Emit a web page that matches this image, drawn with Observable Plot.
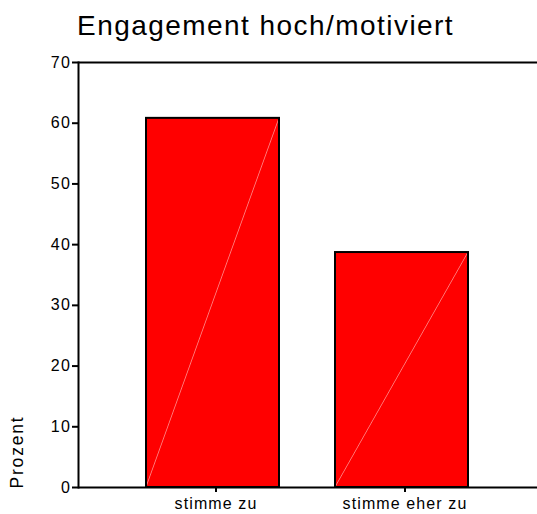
<!DOCTYPE html>
<html>
<head>
<meta charset="utf-8">
<script src="https://cdn.jsdelivr.net/npm/d3@7"></script>
<script src="https://cdn.jsdelivr.net/npm/@observablehq/plot@0.6"></script>
<style>
  html, body { margin: 0; padding: 0; background: #fff; }
  #chart { width: 537px; height: 514px; position: relative; font-family: "Liberation Sans", Arial, sans-serif; color: #000; }
  #title { box-sizing: border-box; height: 50px; padding-top: 12px; padding-left: 77px; font-size: 28px; line-height: 28px; letter-spacing: 1.45px; white-space: nowrap; }
  #chart svg [aria-label="y-axis tick label"] text { letter-spacing: 1.5px; font-size: 16px; }
  #chart svg [aria-label="x-axis tick label"] text { letter-spacing: 1.1px; font-size: 16px; }
  #chart svg .ylab text { letter-spacing: 1.8px; font-size: 17.5px; }
</style>
</head>
<body>
<svg width="0" height="0" style="position:absolute">
  <defs>
    <linearGradient id="diag" gradientUnits="objectBoundingBox" x1="0" y1="0" x2="1" y2="1">
      <stop offset="0" stop-color="#ff0000"/>
      <stop offset="0.4965" stop-color="#ff0000"/>
      <stop offset="0.5" stop-color="#ff7a7a"/>
      <stop offset="0.5035" stop-color="#ff0000"/>
      <stop offset="1" stop-color="#ff0000"/>
    </linearGradient>
  </defs>
</svg>
<div id="chart"><div id="title"></div></div>
<script>
const titleText = "Engagement hoch/motiviert";
const yLabel = ["Prozent"];
const categories = ["stimme zu", "stimme eher zu"];
const percents = [60.8, 38.7];
const yTicks = [0, 10, 20, 30, 40, 50, 60, 70];
const yDomain = [0, 70];

const data = categories.map((c, i) => ({category: c, value: percents[i]}));

document.getElementById("title").textContent = titleText;

const chart = Plot.plot({
  width: 537,
  height: 464,
  marginTop: 12,
  marginBottom: 27,
  marginLeft: 78,
  marginRight: 0,
  style: {fontFamily: "Liberation Sans, Arial, sans-serif", fontSize: "16px", color: "#000", background: "transparent"},
  x: {domain: categories, paddingInner: 0.296, paddingOuter: 0.358, align: 0.5, label: null},
  y: {domain: yDomain, label: null},
  marks: [
    Plot.barY(data, {x: "category", y: "value", fill: "url(#diag)", stroke: "#000", strokeWidth: 2}),
    Plot.ruleY(yDomain, {stroke: "#000", strokeWidth: 2}),
    Plot.frame({anchor: "left", stroke: "#000", strokeWidth: 2}),
    Plot.axisY({ticks: yTicks, tickSize: 6, tickPadding: 1, strokeWidth: 2, label: null}),
    Plot.axisX({tickSize: 5, tickPadding: 5, strokeWidth: 2, label: null, dx: 3}),
    Plot.text(yLabel, {text: d => d, frameAnchor: "bottom-left", rotate: -90, textAnchor: "start", lineAnchor: "middle", dx: -61, dy: 1, className: "ylab"})
  ]
});
document.getElementById("chart").appendChild(chart);
</script>
</body>
</html>
